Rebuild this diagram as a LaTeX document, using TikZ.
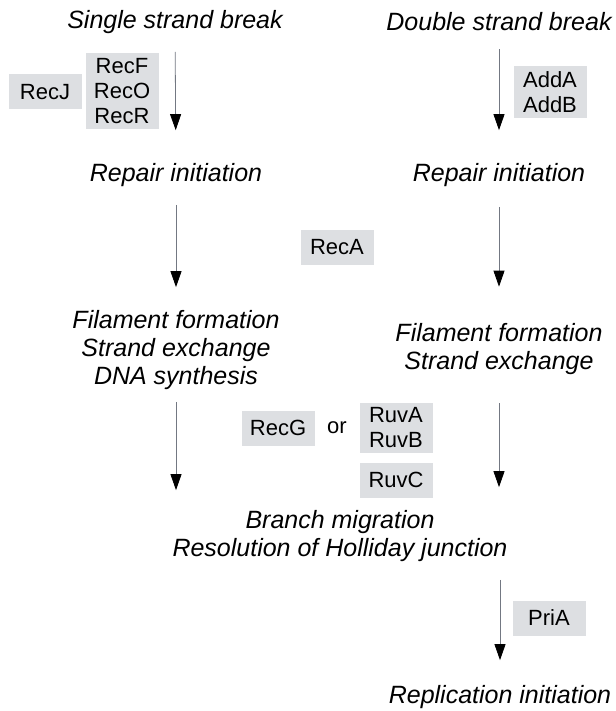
\documentclass[tikz,border=0pt]{standalone}
\usepackage{fontspec}
\setmainfont{Liberation Sans}
\usetikzlibrary{arrows.meta}

\definecolor{boxgray}{RGB}{221,223,226}
\definecolor{linegray}{RGB}{115,120,130}

\tikzset{
	stage/.style={font=\fontsize{25}{28}\selectfont\itshape, align=center, inner sep=0pt},
	enzyme/.style={fill=boxgray, font=\fontsize{22}{25}\selectfont, align=center,
		minimum width=73pt, minimum height=35pt, inner sep=5pt},
	flow/.style={draw=linegray, line width=0.8pt,
		-{Triangle[width=11pt,length=16pt,color=black]}}
}

\begin{document}
\begin{tikzpicture}[x=1pt,y=-1pt]
		\useasboundingbox (0,0) rectangle (615,711);
		% stages
		\node [stage] (single) at (175,22) {Single strand break};
		\node [stage] (double) at (499,22) {Double strand break};
		\node [stage] (rep1) at (176,175) {Repair initiation};
		\node [stage] (rep2) at (499,175) {Repair initiation};
		\node [stage] (fil1) at (176,350) {Filament formation\\Strand exchange\\DNA synthesis};
		\node [stage] (fil2) at (499,349.5) {Filament formation\\Strand exchange};
		\node [stage] (branch) at (340,536) {Branch migration\\Resolution of Holliday junction};
		\node [stage] (repl) at (500,697) {Replication initiation};
		% enzymes
		\node [enzyme] (recJ) at (45,92) {RecJ};
		\node [enzyme] (recFOR) at (122,91) {RecF\\RecO\\RecR};
		\node [enzyme] (addAB) at (550,92) {AddA\\AddB};
		\node [enzyme] (recA) at (337,247) {RecA};
		\node [enzyme] (recG) at (278,428) {RecG};
		\node [font=\fontsize{22}{25}\selectfont] (or) at (337,428) {or};
		\node [enzyme] (ruvAB) at (396,428) {RuvA\\RuvB};
		\node [enzyme] (ruvC) at (396,480) {RuvC};
		\node [enzyme] (priA) at (549,618) {PriA};
		% arrows
		\draw [flow, shorten <=18pt, shorten >=33pt] (single) -- (rep1);
		\draw [flow, shorten <=18pt, shorten >=33pt] (double) -- (rep2);
		\draw [flow, shorten <=18pt, shorten >=23pt] (rep1) -- (fil1);
		\draw [flow, shorten <=20pt, shorten >=37pt] (rep2) -- (fil2);
		\draw [flow, shorten <=12pt, shorten >=20pt] (fil1) -- (fil1 |- branch.north);
		\draw [flow, shorten <=28pt, shorten >=23pt] (fil2) -- (fil2 |- branch.north);
		\draw [flow, shorten <=18pt, shorten >=25pt] (branch.south -| repl) -- (repl);
	\end{tikzpicture}
\end{document}
